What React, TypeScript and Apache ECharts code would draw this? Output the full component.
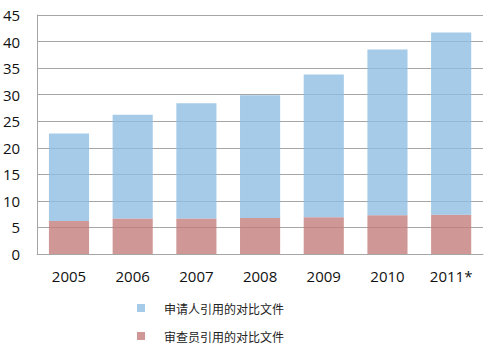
import React, { useEffect, useRef } from "react";
import * as echarts from "echarts";

const categories = ["2005", "2006", "2007", "2008", "2009", "2010", "2011*"];
const examinerCited = [6.2, 6.7, 6.7, 6.8, 6.9, 7.3, 7.4];
const applicantCited = [16.5, 19.5, 21.7, 23.1, 26.9, 31.2, 34.3];
const yTicks = { min: 0, max: 45, interval: 5 };
const seriesNames = ["申请人引用的对比文件", "审查员引用的对比文件"];

export default function App() {
  const ref = useRef<HTMLDivElement>(null);
  useEffect(() => {
    if (!ref.current) return;
    const chart = echarts.init(ref.current, null, { renderer: "svg" });
    chart.setOption({
      animation: false,
      backgroundColor: "#ffffff",
      grid: { left: 37, top: 15, right: 7, bottom: 98 },
      legend: {
        orient: "vertical",
        left: 137,
        top: 302,
        padding: 0,
        itemWidth: 8,
        itemHeight: 8,
        itemGap: 16,
        icon: "rect",
        data: seriesNames,
        textStyle: {
          fontFamily: "Noto Sans CJK SC",
          fontSize: 12,
          color: "#222",
          padding: [0, 0, 0, 14],
        },
      },
      xAxis: {
        type: "category",
        data: categories,
        axisLine: { show: true, lineStyle: { color: "#a6a6a6", width: 1 } },
        axisTick: { show: false },
        axisLabel: {
          fontFamily: "Open Sans",
          fontSize: 15,
          color: "#111",
          margin: 14,
        },
      },
      yAxis: {
        type: "value",
        min: yTicks.min,
        max: yTicks.max,
        interval: yTicks.interval,
        axisLine: { show: true, lineStyle: { color: "#a6a6a6", width: 1 } },
        axisTick: { show: false },
        splitLine: { show: true, lineStyle: { color: "#a6a6a6", width: 1 } },
        axisLabel: {
          fontFamily: "Open Sans",
          fontSize: 15,
          color: "#111",
          margin: 17,
        },
      },
      series: [
        {
          name: seriesNames[1],
          type: "bar",
          stack: "total",
          data: examinerCited,
          barWidth: "63%",
          itemStyle: { color: "#c37e7c", opacity: 0.8 },
        },
        {
          name: seriesNames[0],
          type: "bar",
          stack: "total",
          data: applicantCited,
          barWidth: "63%",
          itemStyle: { color: "#8ebee2", opacity: 0.8 },
        },
      ],
    });
    return () => chart.dispose();
  }, []);
  return <div ref={ref} style={{ width: 490, height: 352, position: "absolute", left: 0, top: 0 }} />;
}
